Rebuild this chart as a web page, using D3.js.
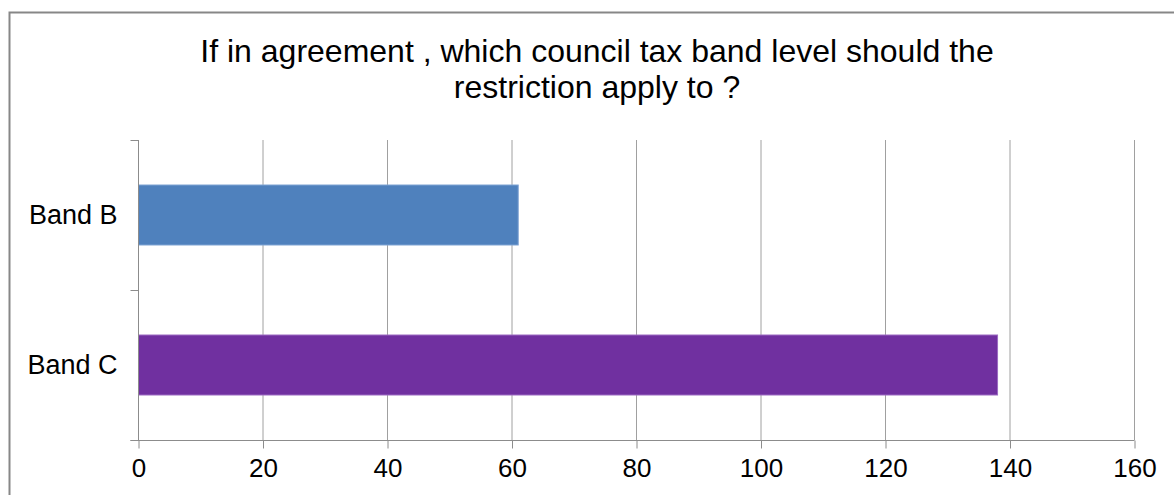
<!DOCTYPE html>
<html>
<head>
<meta charset="utf-8">
<script src="https://cdn.jsdelivr.net/npm/d3@7"></script>
<style>
  html, body { margin: 0; padding: 0; background: #fff; }
  svg { display: block; font-family: "Liberation Sans", Arial, sans-serif; }
</style>
</head>
<body>
<svg id="chart" width="1174" height="495"></svg>
<script>
// Survey responses per council tax band
const categories = ["Band B", "Band C"];
const values = [61, 138];
const barColors = ["#4F81BD", "#7030A0"];
const barEdges = ["#7FA3D3", "#9C6BC2"];
const xTicks = [0, 20, 40, 60, 80, 100, 120, 140, 160];
const titleLines = ["If in agreement , which council tax band level should the", "restriction apply to ?"];

const svg = d3.select("#chart");
const W = 1174, H = 495;
const plot = { left: 138, right: 1134, top: 140, bottom: 440 };

// outer frame
svg.append("rect")
  .attr("x", 9.5).attr("y", 12.5)
  .attr("width", W + 10).attr("height", H + 10)
  .attr("fill", "#fff").attr("stroke", "#878787").attr("stroke-width", 2);

// title
svg.append("g").selectAll("text").data(titleLines).join("text")
  .attr("x", 597)
  .attr("y", (d, i) => 62 + i * 36)
  .attr("text-anchor", "middle")
  .attr("font-size", 32)
  .attr("fill", "#000")
  .text(d => d);

const x = d3.scaleLinear().domain([0, 160]).range([plot.left, plot.right]);
const y = d3.scaleBand().domain(categories).range([plot.top, plot.bottom])
  .paddingInner(0.6).paddingOuter(0.3);

// vertical gridlines
svg.append("g").selectAll("line").data(xTicks.slice(1)).join("line")
  .attr("x1", d => x(d) + 0.5).attr("x2", d => x(d) + 0.5)
  .attr("y1", plot.top).attr("y2", plot.bottom)
  .attr("stroke", "#A0A0A0").attr("stroke-width", 1);

// bars
svg.append("g").selectAll("rect").data(categories).join("rect")
  .attr("x", x(0) + 0.5)
  .attr("y", d => y(d))
  .attr("width", (d, i) => x(values[i]) - x(0))
  .attr("height", y.bandwidth())
  .attr("fill", (d, i) => barColors[i])
  .attr("stroke", (d, i) => barEdges[i])
  .attr("stroke-width", 1);

// x axis
const xAxis = d3.axisBottom(x).tickValues(xTicks).tickSize(8).tickPadding(10);
const gx = svg.append("g").attr("transform", `translate(0.5,${plot.bottom + 0.5})`).call(xAxis);
gx.select(".domain").attr("d", `M${plot.left - 8},0H${plot.right}`);
gx.selectAll("line, path").attr("stroke", "#8C8C8C");
gx.selectAll("text").attr("font-size", 26).attr("fill", "#000")
  .attr("font-family", "Liberation Sans, Arial, sans-serif");

// y axis: tick marks at category boundaries, labels centred on bands
const gy = svg.append("g").attr("transform", `translate(${plot.left + 0.5},0)`);
gy.append("line").attr("x1", 0).attr("x2", 0)
  .attr("y1", plot.top).attr("y2", plot.bottom).attr("stroke", "#8C8C8C");
const boundaries = [plot.top, ...categories.slice(1).map(c => y(c) - y.step() * y.paddingInner() / 2), plot.bottom];
gy.selectAll(".bt").data(boundaries).join("line").attr("class", "bt")
  .attr("x1", -8).attr("x2", 0)
  .attr("y1", d => Math.round(d) + 0.5).attr("y2", d => Math.round(d) + 0.5)
  .attr("stroke", "#8C8C8C");
gy.selectAll("text").data(categories).join("text")
  .attr("x", -21)
  .attr("y", d => y(d) + y.bandwidth() / 2)
  .attr("dy", "0.35em")
  .attr("text-anchor", "end")
  .attr("font-size", 27)
  .attr("fill", "#000")
  .text(d => d);
</script>
</body>
</html>
